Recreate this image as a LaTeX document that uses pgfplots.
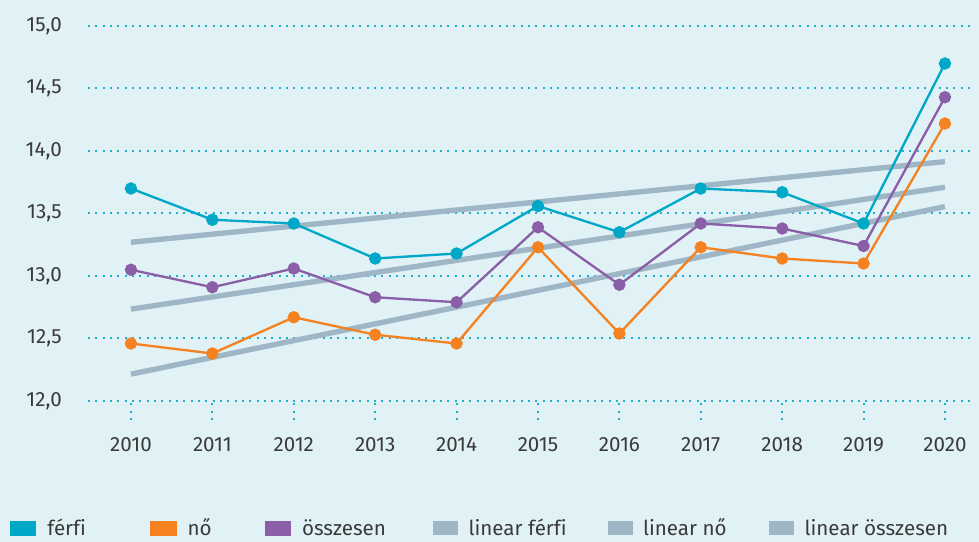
\documentclass[border=0pt]{standalone}
\usepackage{fontspec}
\setmainfont[Ligatures={NoCommon}]{Fira Sans}
\usepackage{pgfplots}
\pgfplotsset{compat=1.18}
\definecolor{bg}{HTML}{E1F2F7}
\definecolor{gridc}{HTML}{1EB1CF}
\definecolor{teal0}{HTML}{00A8C8}
\definecolor{orange0}{HTML}{F58220}
\definecolor{purple0}{HTML}{8A5FA7}
\definecolor{gray0}{HTML}{9EB6C6}
\definecolor{txt}{HTML}{3A3A3A}
\begin{document}
\begin{tikzpicture}
\fill[bg] (0,0) rectangle (734.25bp,406.5bp);
\useasboundingbox (0,0) rectangle (734.25bp,406.5bp);
\begin{axis}[
  at={(66bp,105.75bp)}, anchor=south west,
  scale only axis, width=665.25bp, height=281.25bp,
  xmin=2009.472, xmax=2020.369, ymin=12, ymax=15,
  clip=false,
  axis line style={draw=none},
  ytick={12,12.5,13,13.5,14,14.5,15},
  ymajorgrids,
  grid style={color=gridc, line width=1.5bp, dash pattern=on 1.5bp off 4bp},
  xtick={2010,2011,2012,2013,2014,2015,2016,2017,2018,2019,2020},
  xticklabels={2010,2011,2012,2013,2014,2015,2016,2017,2018,2019,2020},
  tick align=outside, major tick length=14.25bp,
  xtick pos=left, ytick pos=left,
  x tick style={color=gridc, line width=1.5bp, dash pattern=on 1.5bp off 4bp},
  y tick style={draw=none},
  tick label style={font=\fontsize{15.5}{18}\selectfont, text=txt},
  yticklabel style={anchor=east, inner sep=0pt, xshift=-5.25bp},
  xticklabel style={anchor=north, inner sep=0pt, yshift=-12.75bp},
  yticklabel={\pgfmathprintnumber[fixed,fixed zerofill,precision=1,use comma]{\tick}},
  /pgf/number format/assume math mode=true,
  legend columns=6,
  legend cell align=left,
  legend style={draw=none, fill=none, at={(-0.08794,-0.3653)}, anchor=south west,
    inner sep=0pt, outer sep=0pt, column sep=0pt,
    font=\fontsize{15.5}{18}\selectfont, text=txt,
    nodes={inner sep=0pt}},
]
% trend lines (behind)
\addplot[gray0, line width=4bp, forget plot] coordinates {(2010,13.27) (2020,13.915)};
\addplot[gray0, line width=4bp, forget plot] coordinates {(2010,12.215) (2020,13.555)};
\addplot[gray0, line width=4bp, forget plot] coordinates {(2010,12.735) (2020,13.71)};
% data
\addplot[teal0, line width=1.75bp, mark=*, mark size=3.75bp, mark options={fill=teal0, draw=teal0},
  legend image code/.code={\fill[teal0] (0bp,-4.75bp) rectangle (18bp,5bp);}]
  coordinates {(2010,13.70) (2011,13.45) (2012,13.42) (2013,13.14) (2014,13.18) (2015,13.56) (2016,13.35) (2017,13.70) (2018,13.67) (2019,13.42) (2020,14.70)};
\addlegendentry{\makebox[85.5bp][l]{\hspace*{8.25bp}férfi}}
\addplot[orange0, line width=1.75bp, mark=*, mark size=3.75bp, mark options={fill=orange0, draw=orange0},
  legend image code/.code={\fill[orange0] (0bp,-4.75bp) rectangle (18bp,5bp);}]
  coordinates {(2010,12.46) (2011,12.38) (2012,12.67) (2013,12.53) (2014,12.46) (2015,13.23) (2016,12.54) (2017,13.23) (2018,13.14) (2019,13.10) (2020,14.22)};
\addlegendentry{\makebox[66bp][l]{\hspace*{8.25bp}nő}}
\addplot[purple0, line width=1.75bp, mark=*, mark size=3.75bp, mark options={fill=purple0, draw=purple0},
  legend image code/.code={\fill[purple0] (0bp,-4.75bp) rectangle (18bp,5bp);}]
  coordinates {(2010,13.05) (2011,12.91) (2012,13.06) (2013,12.83) (2014,12.79) (2015,13.39) (2016,12.93) (2017,13.42) (2018,13.38) (2019,13.24) (2020,14.43)};
\addlegendentry{\makebox[106.5bp][l]{\hspace*{8.25bp}összesen}}
\addlegendimage{legend image code/.code={\fill[gray0] (0bp,-4.75bp) rectangle (18bp,5bp);}}
\addlegendentry{\makebox[112.5bp][l]{\hspace*{8.25bp}linear férfi}}
\addlegendimage{legend image code/.code={\fill[gray0] (0bp,-4.75bp) rectangle (18bp,5bp);}}
\addlegendentry{\makebox[102.75bp][l]{\hspace*{8.25bp}linear nő}}
\addlegendimage{legend image code/.code={\fill[gray0] (0bp,-4.75bp) rectangle (18bp,5bp);}}
\addlegendentry{\hspace*{8.25bp}linear összesen}
\end{axis}
\end{tikzpicture}
\end{document}
